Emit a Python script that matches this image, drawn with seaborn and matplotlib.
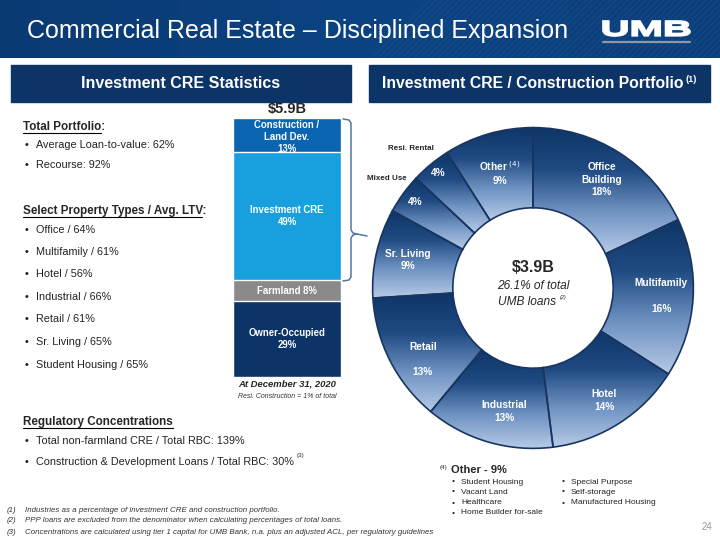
import numpy as np
import matplotlib
matplotlib.use("Agg")
import matplotlib.pyplot as plt
from matplotlib.colors import LinearSegmentedColormap
from matplotlib.patches import Rectangle, PathPatch
from matplotlib.textpath import TextPath
from matplotlib.font_manager import FontProperties
from matplotlib.transforms import Affine2D
import pandas as pd
import seaborn as sns

# stacked bar - Investment CRE statistics ($5.9B total)
bar_segments = ['Owner-Occupied', 'Farmland', 'Investment CRE', 'Construction /\nLand Dev.']
bar_pct = [29, 8, 49, 13]
bar_colors = ['#0c3466', '#8a8a8a', '#17a0dd', '#0a64b0']

# donut - Investment CRE / Construction portfolio ($3.9B)
donut_labels = ['Office\nBuilding', 'Multifamily', 'Hotel', 'Industrial', 'Retail',
                'Sr. Living', 'Mixed Use', 'Resi. Rental', 'Other']
donut_pct = [18, 16, 14, 13, 13, 9, 4, 4, 9]

total_items = ['Average Loan-to-value: 62%', 'Recourse: 92%']
ltv_items = ['Office / 64%', 'Multifamily / 61%', 'Hotel / 56%', 'Industrial / 66%',
             'Retail / 61%', 'Sr. Living / 65%', 'Student Housing / 65%']
reg_items = ['Total non-farmland CRE / Total RBC: 139%',
             'Construction & Development Loans / Total RBC: 30%']
other_col1 = ['Student Housing', 'Vacant Land', 'Healthcare', 'Home Builder for-sale']
other_col2 = ['Special Purpose', 'Self-storage', 'Manufactured Housing']
footnotes = ['Industries as a percentage of investment CRE and construction portfolio.',
             'PPP loans are excluded from the denominator when calculating percentages of total loans.',
             'Concentrations are calculated using tier 1 capital for UMB Bank, n.a. plus an adjusted ACL, per regulatory guidelines']

sns.set_style('white')
plt.rcParams['font.family'] = ['Liberation Sans', 'DejaVu Sans']

NAVY = '#0c3466'
fig = plt.figure(figsize=(7.2, 5.4), dpi=100)
bg = fig.add_axes([0, 0, 1, 1])
bg.axis('off')

# header band
grad = np.linspace(0, 1, 256).reshape(1, -1)
hcmap = LinearSegmentedColormap.from_list('h', ['#0a3a72', '#0c4382', '#0b3f7b'])
bg.imshow(grad, extent=(0, 720, 58, 0), cmap=hcmap, aspect='auto', zorder=0)
for x0 in np.arange(430, 780, 6):
    bg.plot([x0, x0 - 58], [0, 58], color='white', alpha=0.05, lw=0.8, zorder=1)
bg.set_xlim(0, 720)
bg.set_ylim(540, 0)
bg.text(27, 31, 'Commercial Real Estate \u2013 Disciplined Expansion', color='white',
        fontsize=18, va='center', ha='left', zorder=3)
# logo drawn as a stretched text path
tp = TextPath((0, 0), 'UMB', size=10, prop=FontProperties(family='Liberation Sans', weight='bold'))
ext = tp.get_extents()
tr = (Affine2D().translate(-ext.x0, -ext.y0)
      .scale(87 / ext.width, -15 / ext.height).translate(603, 36))
bg.add_patch(PathPatch(tr.transform_path(tp), facecolor='white', edgecolor='white',
                       lw=1.2, zorder=3))
bg.plot([603, 690], [42, 42], color='#8d97a3', lw=1.6, zorder=3)

# section headers
bg.add_patch(Rectangle((11, 65), 340, 37, color=NAVY, zorder=2))
bg.add_patch(Rectangle((369, 65), 341, 37, color=NAVY, zorder=2))
bg.text(181, 84, 'Investment CRE Statistics', color='white', fontsize=11.5,
        fontweight='bold', ha='center', va='center', zorder=3)
bg.text(533, 84, 'Investment CRE / Construction Portfolio', color='white',
        fontsize=11.3, fontweight='bold', ha='center', va='center', zorder=3)
bg.text(686, 80, '(1)', color='white', fontsize=6.5, fontweight='bold',
        ha='left', va='center', zorder=3)

# left column text
fig.canvas.draw()
renderer = fig.canvas.get_renderer()


def heading(y, s):
    t = bg.text(23, y, s, fontsize=8.4, fontweight='bold', va='center', ha='left')
    bb = t.get_window_extent(renderer)
    x1 = bb.x1 - 4 if s.endswith(':') else bb.x1
    bg.plot([23, x1], [y + 6, y + 6], color='black', lw=0.8)


def bullet(y, s, x=25, size=7.8, gap=11, color='#222222'):
    bg.text(x, y, '\u2022', fontsize=size, va='center', ha='left', color=color)
    bg.text(x + gap, y, s, fontsize=size, va='center', ha='left', color=color)


heading(127, 'Total Portfolio:')
for y, s in zip([145, 165], total_items):
    bullet(y, s)
heading(211, 'Select Property Types / Avg. LTV:')
for y, s in zip([230, 252, 274, 297, 319, 342, 365], ltv_items):
    bullet(y, s)
heading(422, 'Regulatory Concentrations')
for y, s in zip([441, 462], reg_items):
    bullet(y, s)
bg.text(297, 455, '(3)', fontsize=4.5, va='center', ha='left')

# stacked bar via seaborn
cum = np.cumsum(bar_pct)
bar_df = pd.DataFrame({'col': ['total'] * 4, 'seg': bar_segments, 'top': cum})
ax_bar = fig.add_axes([233 / 720, 1 - 377 / 540, 108 / 720, 259 / 540])
sns.barplot(data=bar_df, x='col', y='top', hue='seg', hue_order=bar_segments[::-1],
            palette=dict(zip(bar_segments, bar_colors)), dodge=False, width=1.0,
            saturation=1, legend=False, ax=ax_bar)
ax_bar.set_xlim(-0.5, 0.5)
ax_bar.set_ylim(0, cum[-1])
ax_bar.axis('off')
bar_text = ['Owner-Occupied\n29%', 'Farmland 8%', 'Investment CRE\n49%', 'Construction /\nLand Dev.\n13%']
bar_shift = [0, 0, 0, -0.7]
for c, p, s, dy in zip(cum, bar_pct, bar_text, bar_shift):
    ax_bar.text(0, c - p / 2 + dy, s, color='white', fontsize=6.9, fontweight='bold',
                ha='center', va='center', linespacing=1.25)
bg.text(287, 109, '$5.9B', fontsize=10.5, fontweight='bold', ha='center', va='center')
bg.text(287, 384, 'At December 31, 2020', fontsize=6.8, fontweight='bold',
        fontstyle='italic', ha='center', va='center')
bg.text(287, 396, 'Resi. Construction = 1% of total', fontsize=5, fontstyle='italic',
        ha='center', va='center', color='#333333')

# bracket
bx = [343, 349, 351, 351, 353, 357, 353, 351, 351, 349, 343]
by = [119, 120, 123, 230, 233, 234, 235, 238, 277, 280, 281]
bg.plot(bx, by, color='#55779f', lw=1.1)
bg.plot([357, 367], [234, 236], color='#55779f', lw=1.1)

# donut
R = 162
cx, cy = 533, 288
ax_d = fig.add_axes([(cx - R) / 720, 1 - (cy + R) / 540, 2 * R / 720, 2 * R / 540])
wedges, _ = ax_d.pie(donut_pct, startangle=90, counterclock=False, radius=1,
                     wedgeprops=dict(width=0.5, edgecolor='#19355f', linewidth=1.2,
                                     facecolor='none'))
gcmap = LinearSegmentedColormap.from_list('g', ['#0e3566', '#1f4a82', '#6f93c2', '#b6cae7'])
col = np.linspace(0, 1, 256).reshape(-1, 1)
for w in wedges:
    th = np.radians(np.linspace(w.theta1, w.theta2, 60))
    ys = np.concatenate([0.5 * np.sin(th), np.sin(th)])
    im = ax_d.imshow(col, extent=(-1, 1, ys.min(), ys.max()), cmap=gcmap,
                     aspect='auto', origin='upper', zorder=0)
    im.set_clip_path(w)
ax_d.set_xlim(-1.01, 1.01)
ax_d.set_ylim(-1.01, 1.01)
ax_d.axis('off')

inner_text = ['Office\nBuilding\n18%', 'Multifamily\n\n16%', 'Hotel\n14%', 'Industrial\n13%',
              'Retail\n\n13%', 'Sr. Living\n9%', '4%', '4%', 'Other $^{(4)}$\n9%']
label_r = [0.80, 0.80, 0.83, 0.79, 0.82, 0.80, 0.91, 0.93, 0.75]
label_turn = [0, 0, 0, 3, 6, 0, 0, 0, 0]
for w, s, r, d in zip(wedges, inner_text, label_r, label_turn):
    a = np.radians((w.theta1 + w.theta2) / 2 + d)
    ax_d.text(r * np.cos(a), r * np.sin(a), s, color='white', fontsize=7.3,
              fontweight='bold', ha='center', va='center', linespacing=1.35)
bg.text(411, 148, 'Resi. Rental', fontsize=5.8, fontweight='bold', ha='center', va='center')
bg.text(387, 178, 'Mixed Use', fontsize=5.8, fontweight='bold', ha='center', va='center')

bg.text(533, 267, '$3.9B', fontsize=11.5, fontweight='bold', ha='center', va='center')
bg.text(533, 286, '26.1% of total', fontsize=8.6, fontstyle='italic', ha='center', va='center')
bg.text(527, 302, 'UMB loans', fontsize=8.6, fontstyle='italic', ha='center', va='center')
bg.text(563, 298, '(2)', fontsize=4, fontstyle='italic', ha='center', va='center')

# other breakdown
bg.text(440, 467, '(4)', fontsize=4.5, va='center', ha='left')
bg.text(451, 470, 'Other - 9%', fontsize=8, fontweight='bold', va='center', ha='left')
for y, s in zip([482, 492, 503, 513], other_col1):
    bullet(y, s, x=452, size=6, gap=9)
for y, s in zip([482, 492, 503], other_col2):
    bullet(y, s, x=562, size=6, gap=9)

# footnotes
for i, (y, s) in enumerate(zip([511, 521, 532], footnotes)):
    bg.text(7, y, f'({i + 1})', fontsize=5.7, fontstyle='italic', va='center', ha='left',
            color='#333333')
    bg.text(25, y, s, fontsize=5.7, fontstyle='italic', va='center', ha='left',
            color='#333333')
bg.text(712, 527, '24', fontsize=7, color='#999999', va='center', ha='right')

fig.savefig('out.png', dpi=100)
